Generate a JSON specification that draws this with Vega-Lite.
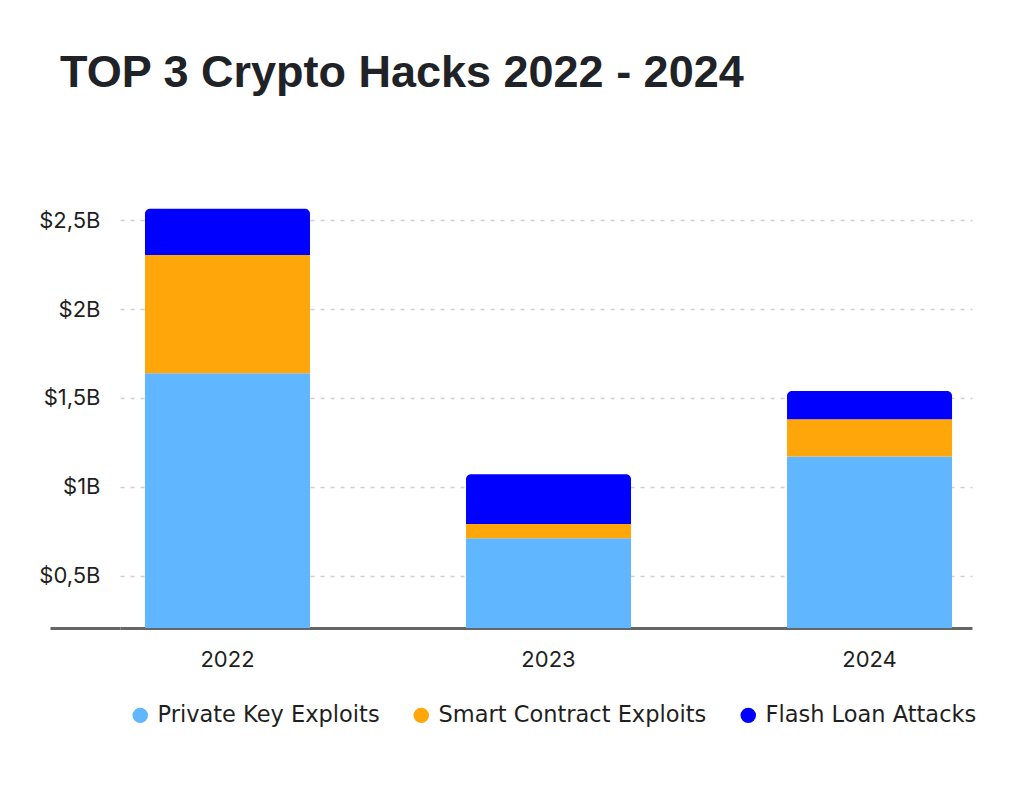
{
  "$schema": "https://vega.github.io/schema/vega-lite/v6.json",
  "autosize": {"type": "none"},
  "width": 852,
  "height": 468,
  "padding": {"left": 120, "top": 160, "right": 52, "bottom": 160},
  "background": "#ffffff",
  "title": {
    "text": "TOP 3 Crypto Hacks 2022 - 2024",
    "anchor": "start",
    "frame": "group",
    "dx": -60,
    "dy": 42,
    "offset": 70,
    "baseline": "alphabetic",
    "font": "Liberation Sans",
    "fontSize": 45,
    "fontWeight": "bold",
    "color": "#1f2328"
  },
  "config": {
    "view": {"stroke": null},
    "axis": {"labelFont": "Inter", "labelFontSize": 22, "labelColor": "#1f1f1f", "title": null}
  },
  "data": {
    "values": [
      {"year": "2022", "type": "Private Key Exploits", "value": 1.64},
      {"year": "2022", "type": "Smart Contract Exploits", "value": 0.665},
      {"year": "2022", "type": "Flash Loan Attacks", "value": 0.26},
      {"year": "2023", "type": "Private Key Exploits", "value": 0.71},
      {"year": "2023", "type": "Smart Contract Exploits", "value": 0.08},
      {"year": "2023", "type": "Flash Loan Attacks", "value": 0.28},
      {"year": "2024", "type": "Private Key Exploits", "value": 1.17},
      {"year": "2024", "type": "Smart Contract Exploits", "value": 0.21},
      {"year": "2024", "type": "Flash Loan Attacks", "value": 0.16}
    ]
  },
  "transform": [
    {"calculate": "indexof(['Private Key Exploits', 'Smart Contract Exploits', 'Flash Loan Attacks'], datum.type)", "as": "rank"},
    {"stack": "value", "groupby": ["year"], "sort": [{"field": "rank", "order": "ascending"}], "as": ["v0", "v1"]}
  ],
  "encoding": {
    "x": {
      "field": "year",
      "type": "nominal",
      "scale": {"paddingInner": 0.486, "paddingOuter": 0.07, "align": 0.556},
      "axis": {
        "labelAngle": 0,
        "ticks": false,
        "domain": true,
        "domainColor": "#666666",
        "domainWidth": 3,
        "labelPadding": 21,
        "grid": false
      }
    },
    "y": {
      "field": "v1",
      "type": "quantitative",
      "scale": {"domain": [0.205, 2.84], "zero": false, "nice": false},
      "axis": {
        "values": [0.205, 0.5, 1, 1.5, 2, 2.5],
        "domain": false,
        "ticks": true,
        "tickSize": 70,
        "tickWidth": 3,
        "tickColor": "#666666",
        "tickOpacity": {"condition": {"test": "datum.value < 0.3", "value": 1}, "value": 0},
        "labelPadding": -50,
        "labelExpr": "datum.value < 0.3 ? '' : '$' + replace(format(datum.value, '.1~f'), '.', ',') + 'B'",
        "grid": true,
        "gridColor": "#cfcfcf",
        "gridDash": [4, 6],
        "gridWidth": 1.5,
        "gridOpacity": {"condition": {"test": "datum.value < 0.3", "value": 0}, "value": 1}
      }
    },
    "y2": {"field": "v0"},
    "color": {
      "field": "type",
      "type": "nominal",
      "scale": {
        "domain": ["Private Key Exploits", "Smart Contract Exploits", "Flash Loan Attacks"],
        "range": ["#60b6ff", "#ffa60a", "#0000ff"]
      },
      "legend": {
        "title": null,
        "orient": "none",
        "direction": "horizontal",
        "legendX": 9,
        "legendY": 544,
        "symbolType": "circle",
        "symbolSize": 240,
        "symbolStrokeWidth": 0,
        "labelFont": "DejaVu Sans",
        "labelFontSize": 22.5,
        "labelColor": "#1f1f1f",
        "labelOffset": 6,
        "columnPadding": 30,
        "labelLimit": 400
      }
    }
  },
  "layer": [
    {
      "transform": [{"filter": "datum.type !== 'Flash Loan Attacks'"}],
      "mark": {"type": "bar", "clip": true}
    },
    {
      "transform": [{"filter": "datum.type === 'Flash Loan Attacks'"}],
      "mark": {"type": "bar", "clip": true, "cornerRadiusTopLeft": 5, "cornerRadiusTopRight": 5}
    }
  ]
}
